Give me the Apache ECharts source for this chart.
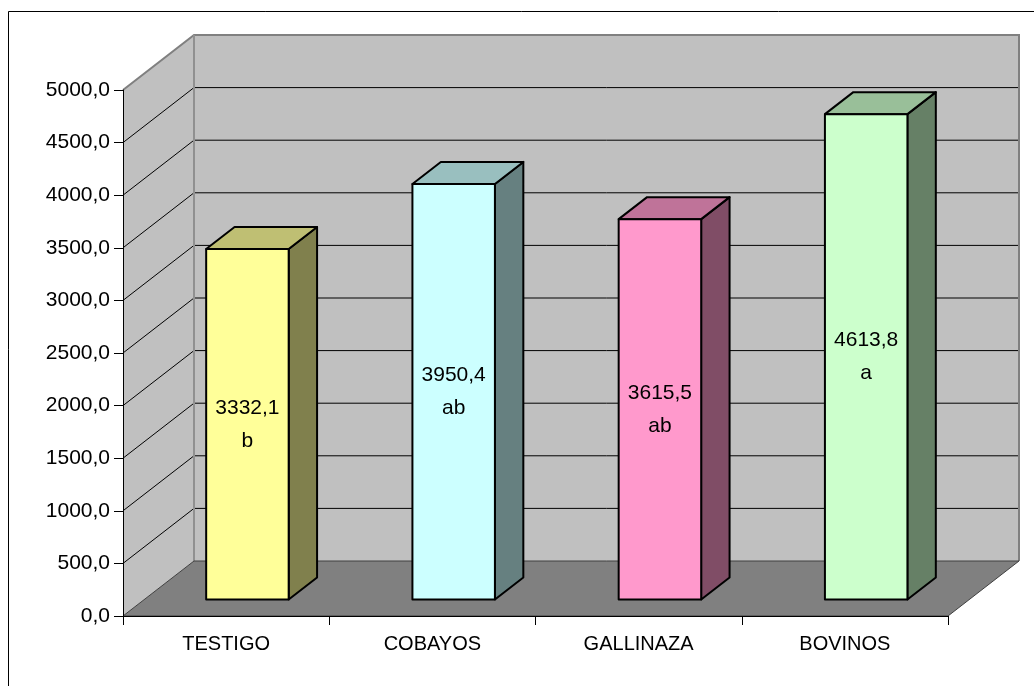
<!DOCTYPE html>
<html>
<head>
<meta charset="utf-8">
<script src="https://cdn.jsdelivr.net/npm/echarts@6/dist/echarts.min.js"></script>
<style>
  html, body { margin: 0; padding: 0; background: #ffffff; }
  #chart { width: 1034px; height: 686px; }
</style>
</head>
<body>
<div id="chart"></div>
<script>
// Yield per treatment, with the significance group letter shown under each value
const categories = ['TESTIGO', 'COBAYOS', 'GALLINAZA', 'BOVINOS'];
const yields = [3332.1, 3950.4, 3615.5, 4613.8];
const groups = ['b', 'ab', 'ab', 'a'];
const yTicks = [0, 500, 1000, 1500, 2000, 2500, 3000, 3500, 4000, 4500, 5000];
const faceColors = ['#FFFF99', '#CCFFFF', '#FF99CC', '#CCFFCC'];

// Pseudo-3D box: the back wall sits this many pixels right / up of the front plane
const DX = 71, DY = 55;
const BAR_FRONT = 0.3;   // fraction of depth in front of the bars
const BAR_DEPTH = 0.4;   // fraction of depth taken by the bars
const BAR_WIDTH = 0.4;   // fraction of a category band

const FONT = '"Liberation Sans", Arial, sans-serif';

function fmt(v) { return v.toFixed(1).replace('.', ','); }

function shade(hex, k) {
  const n = parseInt(hex.slice(1), 16);
  const r = Math.round(((n >> 16) & 255) * k);
  const g = Math.round(((n >> 8) & 255) * k);
  const b = Math.round((n & 255) * k);
  return 'rgb(' + r + ',' + g + ',' + b + ')';
}

// Side wall, back wall, floor and gridlines of the box
function renderWalls(params, api) {
  const cs = params.coordSys;
  const x0 = cs.x, x1 = cs.x + cs.width;
  const yTop = cs.y, yBot = cs.y + cs.height;
  const children = [];
  children.push({
    type: 'polygon',
    shape: { points: [[x0, yBot], [x0, yTop], [x0 + DX, yTop - DY], [x0 + DX, yBot - DY]] },
    style: { fill: '#C0C0C0' }
  });
  children.push({
    type: 'rect',
    shape: { x: x0 + DX, y: yTop - DY, width: cs.width, height: cs.height },
    style: { fill: '#C0C0C0' }
  });
  yTicks.forEach(function (v) {
    if (v === yTicks[0] || v === yTicks[yTicks.length - 1]) return;
    const y = api.coord([0, v])[1];
    children.push({
      type: 'polyline',
      shape: { points: [[x0, y], [x0 + DX, y - DY], [x1 + DX, y - DY]] },
      style: { stroke: '#000000', lineWidth: 1, fill: null }
    });
  });
  // wall outlines
  children.push({
    type: 'polyline',
    shape: { points: [[x0, yTop], [x0 + DX, yTop - DY], [x1 + DX, yTop - DY], [x1 + DX, yBot - DY]] },
    style: { stroke: '#808080', lineWidth: 2, fill: null }
  });
  children.push({
    type: 'line',
    shape: { x1: x0 + DX, y1: yTop - DY, x2: x0 + DX, y2: yBot - DY },
    style: { stroke: '#909090', lineWidth: 2 }
  });
  children.push({
    type: 'polygon',
    shape: { points: [[x0, yBot], [x1, yBot], [x1 + DX, yBot - DY], [x0 + DX, yBot - DY]] },
    style: { fill: '#808080', stroke: '#404040', lineWidth: 1 }
  });
  return { type: 'group', children: children };
}

// One shaded column with its value label on the front face
function renderBar(params, api) {
  const i = api.value(0), v = api.value(1);
  const top = api.coord([i, v]);
  const base = api.coord([i, 0]);
  const w = api.size([1, 0])[0] * BAR_WIDTH;
  const fx = DX * BAR_FRONT, fy = DY * BAR_FRONT;
  const bx = DX * BAR_DEPTH, by = DY * BAR_DEPTH;
  const xl = top[0] + fx - w / 2, xr = xl + w;
  const yt = top[1] - fy, yb = base[1] - fy;
  const color = faceColors[params.dataIndex];
  const edge = { stroke: '#000000', lineWidth: 2, lineJoin: 'round' };
  return {
    type: 'group',
    children: [
      {
        type: 'polygon',
        shape: { points: [[xr, yt], [xr + bx, yt - by], [xr + bx, yb - by], [xr, yb]] },
        style: Object.assign({ fill: shade(color, 0.5) }, edge)
      },
      {
        type: 'polygon',
        shape: { points: [[xl, yt], [xr, yt], [xr + bx, yt - by], [xl + bx, yt - by]] },
        style: Object.assign({ fill: shade(color, 0.75) }, edge)
      },
      {
        type: 'rect',
        shape: { x: xl, y: yt, width: w, height: yb - yt },
        style: Object.assign({ fill: color }, edge)
      },
      {
        type: 'text',
        style: {
          text: fmt(v) + '\n' + groups[params.dataIndex],
          x: (xl + xr) / 2,
          y: (yt + yb) / 2,
          align: 'center',
          verticalAlign: 'middle',
          fontSize: 21,
          fontFamily: FONT,
          lineHeight: 33,
          fill: '#000000'
        }
      }
    ]
  };
}

const chart = echarts.init(document.getElementById('chart'), null, { renderer: 'canvas' });
chart.setOption({
  animation: false,
  backgroundColor: '#ffffff',
  grid: { left: 123, right: 86, top: 90, bottom: 70, containLabel: false },
  xAxis: {
    type: 'category',
    data: categories,
    z: 10,
    boundaryGap: true,
    axisLine: { show: true, lineStyle: { color: '#000000', width: 1 } },
    axisTick: { show: true, length: 9, lineStyle: { color: '#000000' } },
    axisLabel: { color: '#000000', fontSize: 20, fontFamily: FONT, margin: 18 },
    splitLine: { show: false }
  },
  yAxis: {
    type: 'value',
    min: 0,
    max: 5000,
    interval: 500,
    z: 10,
    axisLine: { show: true, lineStyle: { color: '#000000', width: 1 } },
    axisTick: { show: true, length: 9, lineStyle: { color: '#000000' } },
    axisLabel: {
      color: '#000000', fontSize: 21, fontFamily: FONT, margin: 13,
      formatter: function (v) { return fmt(v); }
    },
    splitLine: { show: false }
  },
  graphic: [
    {
      type: 'rect',
      silent: true,
      z: 100,
      shape: { x: 8.5, y: 11.5, width: 1100, height: 800 },
      style: { fill: null, stroke: '#000000', lineWidth: 1 }
    }
  ],
  series: [
    {
      type: 'custom',
      z: 1,
      silent: true,
      renderItem: renderWalls,
      data: [[0, 0]]
    },
    {
      type: 'custom',
      z: 2,
      renderItem: renderBar,
      encode: { x: 0, y: 1 },
      data: yields.map(function (v, i) { return [i, v]; })
    }
  ]
});
</script>
</body>
</html>
